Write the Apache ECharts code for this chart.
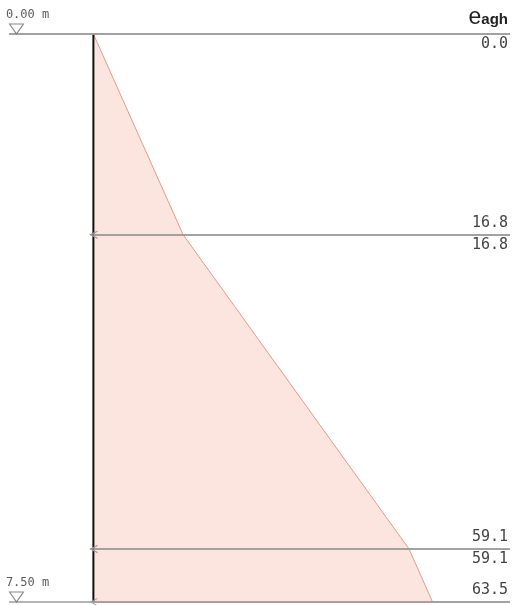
<!DOCTYPE html>
<html>
<head>
<meta charset="utf-8">
<script src="https://cdn.jsdelivr.net/npm/echarts@6/dist/echarts.min.js"></script>
<style>
html, body { margin: 0; padding: 0; background: #fff; }
#chart { width: 515px; height: 605px; }
</style>
</head>
<body>
<div id="chart"></div>
<script>
// layer boundaries (m) and e_agh just above / below each boundary
const depths = [0.0, 2.65, 6.80, 7.50]
const eAbove = [null, 16.8, 59.1, 63.5]
const eBelow = [0.0, 16.8, 59.1, null]
const levelDepths = [0.0, 7.50]
const titleMain = 'e'
const titleSub = 'agh'

const xMin = -15.8
const xMax = 78
const grey = '#9c9c9c'
const numFont = { fontFamily: 'DejaVu Sans Mono', fontSize: 15, color: '#444' }

// pressure outline
const profile = []
depths.forEach((d, i) => {
  if (eAbove[i] != null) profile.push([eAbove[i], d])
  if (eBelow[i] != null) profile.push([eBelow[i], d])
})
const first = depths[0]
const last = depths[depths.length - 1]

const chevron = 'path://M5,0 L10,10 L8.8,10 L5,2.4 L1.2,10 L0,10 Z'

// horizontal lines with their numbers
const lines = []
depths.forEach((d, i) => {
  const isEdge = i === 0 || i === depths.length - 1
  const start = isEdge ? xMin : 0
  if (eAbove[i] != null) {
    lines.push([
      { coord: [start, d], symbol: isEdge ? 'none' : chevron,
        label: Object.assign({ show: true, position: 'insideEndTop', distance: [2, 4], formatter: eAbove[i].toFixed(1) }, numFont) },
      { coord: [xMax, d], symbol: 'none' }
    ])
  }
  if (eBelow[i] != null) {
    lines.push([
      { coord: [start, d], symbol: isEdge ? 'none' : chevron,
        label: Object.assign({ show: true, position: 'insideEndBottom', distance: [2, 3], formatter: eBelow[i].toFixed(1) }, numFont) },
      { coord: [xMax, d], symbol: 'none' }
    ])
  }
})
// arrow at the wall on the bottom line
lines.push([{ coord: [0, last], symbol: chevron }, { coord: [xMax, last], symbol: 'none' }])
// header above the top line
lines.push([
  { coord: [xMin, first], symbol: 'none',
    label: { show: true, position: 'insideEndTop', distance: [2, 1],
      formatter: '{e|' + titleMain + '}{s|' + titleSub + '}',
      rich: {
        e: { fontFamily: 'Liberation Sans', fontSize: 23, color: '#222', padding: [0, 0, 4, 0] },
        s: { fontFamily: 'Liberation Sans', fontSize: 15, fontWeight: 'bold', color: '#222' }
      } } },
  { coord: [xMax, first], symbol: 'none' }
])

const chart = echarts.init(document.getElementById('chart'))
const option = {
  animation: false,
  grid: { left: 9, right: 5, top: 34, bottom: 3 },
  xAxis: { type: 'value', min: xMin, max: xMax, show: false },
  yAxis: { type: 'value', min: first, max: last, inverse: true, show: false },
  series: [
    {
      type: 'custom',
      data: [0],
      z: 1,
      renderItem: function (params, api) {
        const pts = profile.map(p => api.coord(p))
        pts.push(api.coord([0, last]))
        pts.push(api.coord([0, first]))
        return { type: 'polygon', shape: { points: pts }, style: { fill: '#fbe5de' } }
      }
    },
    {
      type: 'line',
      data: profile,
      z: 2,
      symbol: 'none',
      lineStyle: { color: '#e49a8a', width: 1 }
    },
    {
      type: 'line',
      data: [[0, first], [0, last]],
      z: 4,
      symbol: 'none',
      lineStyle: { color: '#111', width: 2 }
    },
    {
      type: 'scatter',
      data: levelDepths.map(d => [-14.4, d]),
      z: 5,
      symbol: 'path://M0,0 L10,0 L5,8 Z',
      symbolSize: [14, 10],
      symbolOffset: [0, -5],
      itemStyle: { color: '#fff', borderColor: '#666', borderWidth: 1 },
      label: {
        show: true,
        position: [-3, -15],
        formatter: p => p.value[1].toFixed(2) + ' m',
        fontFamily: 'DejaVu Sans Mono',
        fontSize: 12,
        color: '#333'
      }
    },
    {
      type: 'line',
      data: [],
      z: 3,
      markLine: {
        silent: true,
        symbol: ['none', 'none'],
        symbolSize: [8, 8],
        lineStyle: { color: grey, width: 1.5, type: 'solid' },
        data: lines
      }
    }
  ]
}
chart.setOption(option)
</script>
</body>
</html>
